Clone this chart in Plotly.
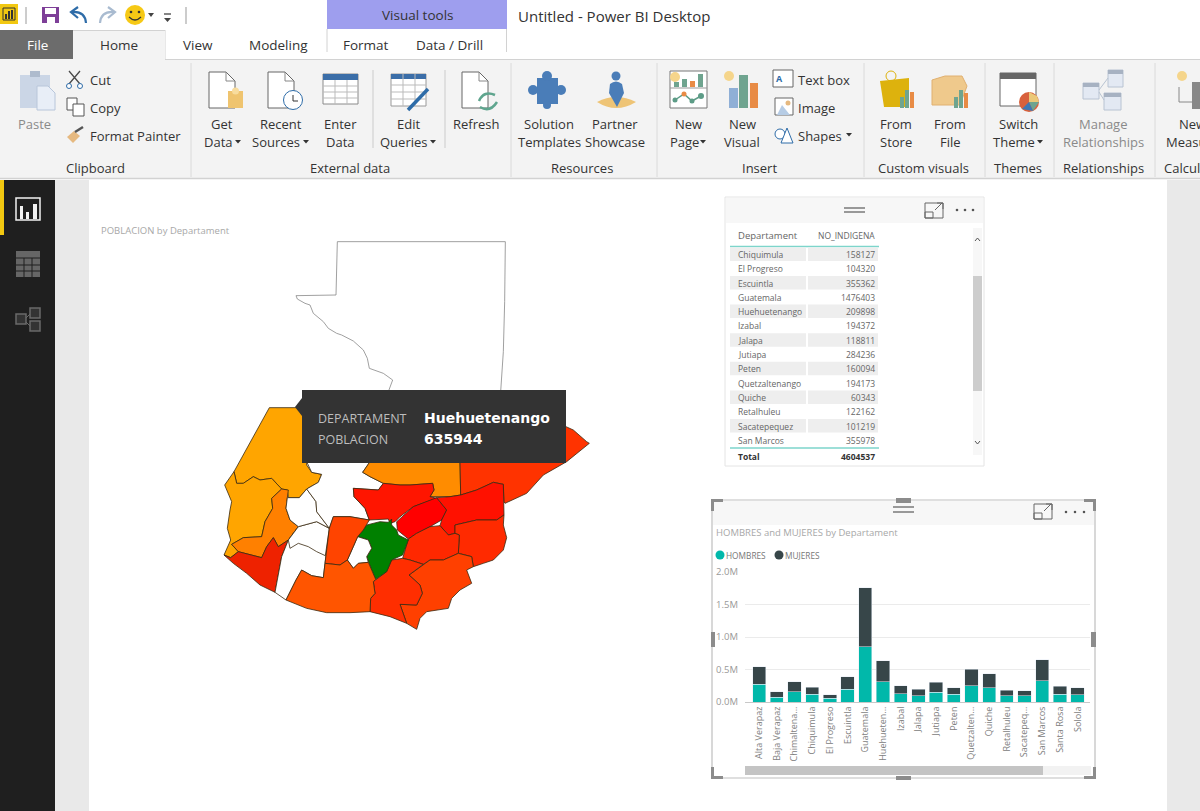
import plotly.graph_objects as go

# --- bar chart data ---
departments = ["Alta Verapaz", "Baja Verapaz", "Chimaltena...", "Chiquimula", "El Progreso", "Escuintla",
               "Guatemala", "Huehueten...", "Izabal", "Jalapa", "Jutiapa", "Peten", "Quetzalten...",
               "Quiche", "Retalhuleu", "Sacatepeq...", "San Marcos", "Santa Rosa", "Solola"]
hombres = [272000, 77000, 154000, 118000, 57000, 195000, 848000, 314000, 129000, 98000,
           149000, 123000, 252000, 216000, 93000, 93000, 324000, 123000, 113000]
mujeres = [273000, 77000, 154000, 108000, 51000, 191000, 910000, 318000, 123000, 97000,
           154000, 98000, 252000, 221000, 87000, 82000, 324000, 119000, 108000]

# --- table data ---
table_names = ["Chiquimula", "El Progreso", "Escuintla", "Guatemala", "Huehuetenango", "Izabal", "Jalapa",
               "Jutiapa", "Peten", "Quetzaltenango", "Quiche", "Retalhuleu", "Sacatepequez", "San Marcos"]
table_values = ["158127", "104320", "355362", "1476403", "209898", "194372", "118811",
                "284236", "160094", "194173", "60343", "122162", "101219", "355978"]

# --- map outlines at 3x: (name, colour, points) ---
map_regions = [
    ("Peten", "#FFFFFF", [(382,20),(886,20),(884,200),(880,350),(872,470),(535,470),(548,435),(520,415),(478,400),(472,370),(460,345),(430,318),(395,300),(380,295),(355,280),(340,260),(310,235),(300,210),(285,205),(262,192),(258,182),(378,180)]),
    ("Huehuetenango", "#FFA500", [(178,518),(290,518),(290,690),(305,712),(335,718),(325,742),(290,762),(268,788),(235,788),(232,765),(215,762),(185,730),(150,735),(130,725),(100,745),(80,745),(72,710)]),
    ("San Marcos", "#FFA500", [(72,710),(80,745),(100,745),(130,725),(150,735),(185,730),(215,762),(185,790),(188,820),(165,860),(155,905),(100,908),(65,928),(85,950),(62,968),(42,960),(62,915),(52,880),(60,825),(65,800),(44,750)]),
    ("Quetzaltenango", "#FF8000", [(215,762),(235,765),(232,788),(228,820),(240,855),(265,875),(235,915),(205,935),(190,908),(170,935),(155,968),(115,958),(85,950),(65,928),(100,908),(155,905),(165,860),(188,820),(185,790)]),
    ("Retalhuleu", "#EE2200", [(42,960),(62,968),(85,950),(155,968),(170,935),(190,908),(205,935),(235,915),(215,965),(195,1072),(150,1050),(110,1015),(70,985)]),
    ("Suchitepequez", "#FFFFFF", [(235,915),(265,875),(320,860),(358,880),(345,985),(340,1028),(305,1022),(275,1005),(258,1035),(228,1095),(195,1072),(215,965)]),
    ("Solola", "#FFFFFF", [(235,915),(265,875),(320,860),(358,880),(346,962),(320,950),(295,935),(265,925),(240,940)]),
    ("Totonicapan", "#FFFFFF", [(232,788),(268,788),(290,762),(318,800),(320,830),(358,880),(320,860),(265,875),(240,855),(228,820)]),
    ("Quiche", "#FFFFFF", [(290,680),(480,680),(458,712),(480,725),(520,745),(505,765),(430,760),(432,785),(465,820),(478,855),(420,845),(370,845),(358,880),(320,830),(318,800),(290,762),(325,742),(335,718),(305,712)]),
    ("Alta Verapaz", "#FF8C00", [(480,680),(458,712),(480,725),(520,745),(570,750),(600,750),(668,745),(672,765),(660,785),(720,785),(752,780),(750,680)]),
    ("Izabal", "#FF3300", [(750,680),(752,780),(800,765),(850,742),(880,748),(882,800),(885,805),(950,775),(1000,720),(1070,680),(1138,625),(1130,620),(1090,585),(1068,575),(1000,575),(750,575)]),
    ("Baja Verapaz", "#FF1500", [(430,760),(505,765),(520,745),(570,750),(600,750),(668,745),(672,765),(660,785),(680,790),(610,815),(570,845),(555,860),(540,865),(535,852),(478,855),(465,820),(432,785)]),
    ("El Progreso", "#FF0000", [(680,788),(710,825),(695,855),(660,875),(620,895),(595,912),(562,885),(560,860),(610,815)]),
    ("Zacapa", "#FF1100", [(680,788),(720,785),(752,780),(800,765),(850,742),(880,748),(882,840),(860,855),(800,855),(735,870),(735,895),(715,900),(690,872),(695,855),(710,825)]),
    ("Chiquimula", "#FF2A00", [(735,870),(800,855),(860,855),(882,840),(880,870),(890,908),(880,945),(850,975),(820,985),(790,995),(785,965),(745,955),(748,900),(735,895)]),
    ("Jalapa", "#FF2800", [(690,872),(715,900),(735,895),(748,900),(745,955),(700,975),(660,975),(640,988),(600,975),(578,970),(595,912),(620,895),(660,875)]),
    ("Jutiapa", "#FF4000", [(745,955),(785,965),(790,995),(770,1005),(785,1045),(750,1065),(725,1090),(715,1120),(650,1130),(630,1150),(620,1183),(590,1165),(570,1108),(620,1110),(637,1075),(630,1050),(597,1020),(640,988),(660,975),(700,975)]),
    ("Santa Rosa", "#FF2E00", [(578,970),(600,975),(640,988),(597,1020),(630,1050),(637,1075),(620,1110),(570,1108),(590,1165),(540,1145),(480,1130),(482,1090),(495,1075),(490,1040),(530,1010),(545,975)]),
    ("Guatemala", "#008000", [(470,870),(510,860),(535,862),(545,852),(545,870),(560,885),(565,900),(595,915),(578,960),(545,975),(530,1010),(497,1033),(485,1005),(470,965),(485,940),(475,915),(443,905),(460,885)]),
    ("Sacatepequez", "#FFFFFF", [(443,905),(475,915),(485,940),(470,965),(475,982),(445,985),(430,1000),(412,975),(430,935)]),
    ("Chimaltenango", "#FF4400", [(370,845),(420,845),(478,855),(470,870),(460,885),(443,905),(430,935),(412,975),(390,990),(345,985),(358,880)]),
    ("Escuintla", "#FF5500", [(258,1035),(275,1005),(305,1022),(340,1028),(345,985),(390,990),(412,975),(430,1000),(445,985),(475,982),(485,1005),(497,1033),(490,1040),(495,1075),(482,1090),(480,1130),(420,1133),(350,1133),(290,1120),(228,1095)]),
]

# --- ribbon text: (x, y, label, colour) ---
DARK = "#333333"
GREY = "#8A8A8A"
ribbon_labels = [
    (34, 124, "Paste", GREY), (222, 124, "Get", DARK), (218, 142, "Data", DARK), (281, 124, "Recent", DARK),
    (276, 142, "Sources", DARK), (340, 124, "Enter", DARK), (340, 142, "Data", DARK), (408, 124, "Edit", DARK),
    (403, 142, "Queries", DARK), (476, 124, "Refresh", DARK), (549, 124, "Solution", DARK),
    (549, 142, "Templates", DARK), (615, 124, "Partner", DARK), (615, 142, "Showcase", DARK), (688, 124, "New", DARK),
    (684, 142, "Page", DARK), (742, 124, "New", DARK), (742, 142, "Visual", DARK), (896, 124, "From", DARK),
    (896, 142, "Store", DARK), (950, 124, "From", DARK), (950, 142, "File", DARK), (1018, 124, "Switch", DARK),
    (1014, 142, "Theme", DARK), (1103, 124, "Manage", GREY), (1103, 142, "Relationships", GREY),
    (1192, 124, "New", DARK), (1192, 142, "Measure", DARK),
    (95, 168, "Clipboard", DARK), (350, 168, "External data", DARK), (582, 168, "Resources", DARK),
    (759, 168, "Insert", DARK), (923, 168, "Custom visuals", DARK), (1018, 168, "Themes", DARK),
    (1103, 168, "Relationships", DARK), (1200, 168, "Calculations", DARK),
]
ribbon_side_labels = [(90, 80, "Cut"), (90, 108, "Copy"), (90, 136, "Format Painter"),
                      (798, 80, "Text box"), (798, 108, "Image"), (798, 136, "Shapes")]
tab_labels = [(119, 45, "Home"), (198, 45, "View"), (278, 45, "Modeling"), (366, 45, "Format"), (449, 45, "Data / Drill")]
dropdown_carets = [(238, 142), (306, 142), (433, 142), (703, 142), (849, 135), (1040, 142)]
group_separators = [191, 511, 657, 864, 985, 1054, 1155]

FONT = "Open Sans"
CLEAR = "rgba(0,0,0,0)"
GREEN = "#6FA48F"
ORANGE = "#E88B45"
BLUE = "#4A7DB8"
SUN = "#F5D58B"
shapes = []
annotations = []


def rect(x0, y0, x1, y1, fill, line=None, layer="below", width=1):
    shapes.append(dict(type="rect", xref="x", yref="y", x0=x0, y0=y0, x1=x1, y1=y1, fillcolor=fill, layer=layer,
                       line=dict(color=line or fill, width=width if line else 0)))


def circle(cx, cy, r, fill, line=None, layer="below"):
    shapes.append(dict(type="circle", xref="x", yref="y", x0=cx - r, y0=cy - r, x1=cx + r, y1=cy + r, fillcolor=fill,
                       layer=layer, line=dict(color=line or fill, width=1 if line else 0)))


def hline(x0, x1, y, color, width=1, layer="below"):
    shapes.append(dict(type="line", xref="x", yref="y", x0=x0, x1=x1, y0=y, y1=y, layer=layer,
                       line=dict(color=color, width=width)))


def vline(x, y0, y1, color, width=1, layer="below"):
    shapes.append(dict(type="line", xref="x", yref="y", x0=x, x1=x, y0=y0, y1=y1, layer=layer,
                       line=dict(color=color, width=width)))


def path(d, fill=CLEAR, line=None, width=1, layer="below"):
    shapes.append(dict(type="path", xref="x", yref="y", path=d, fillcolor=fill, layer=layer,
                       line=dict(color=line or CLEAR, width=width if line else 0)))


def text(x, y, s, size=13, color=DARK, anchor="center", bold=False, family=FONT):
    # annotations carry a little padding on the anchored side
    if anchor == "left":
        x -= 2
    elif anchor == "right":
        x += 2
    annotations.append(dict(x=x, y=y, xref="x", yref="y", text=f"<b>{s}</b>" if bold else s, showarrow=False,
                            xanchor=anchor, yanchor="middle", font=dict(family=family, size=size, color=color)))


def doc_icon(x0, y0, x1, y1):
    path(f"M{x0},{y0} L{x1-9},{y0} L{x1},{y0+9} L{x1},{y1} L{x0},{y1} Z", "#FFFFFF", "#666666")
    path(f"M{x1-9},{y0} L{x1-9},{y0+9} L{x1},{y0+9}", line="#888888")


# --- window background ---
rect(0, 59, 1200, 178, "#F3F3F3")
hline(0, 1200, 178.5, "#D2D2D2", 1.5)
rect(55, 180, 1200, 811, "#E9E9E9")
rect(89, 180, 1167, 811, "#FFFFFF")
rect(0, 180, 55, 811, "#1F1F1F")
rect(0, 180, 4, 235, "#F2C811")

# sidebar icons
rect(16, 198, 40, 220, CLEAR, "#F2F2F2", width=1.5)
for bx, by, bw in [(20, 206, 3), (26, 212, 3), (33, 204, 4)]:
    rect(bx, by, bx + bw, 219, "#F2F2F2")
rect(16, 251, 40, 277, "#666666")
for k in (258, 265, 271):
    hline(16, 40, k, "#1F1F1F")
for k in (24, 32):
    vline(k, 258, 277, "#1F1F1F")
for bx, by, bw in [(16, 314, 10), (30, 308, 10), (30, 321, 10)]:
    rect(bx, by, bx + bw, by + 10, "#333333", "#6A6A6A", width=1.5)
path("M26,318 L30,314 M26,322 L30,326", line="#6A6A6A")

# --- title bar ---
rect(0, 4, 18, 24, "#F2C811")
rect(3, 8, 15, 20, CLEAR, "#333333")
for bx, by in [(5, 14), (8, 11), (11, 10)]:
    rect(bx, by, bx + 2, 19, "#333333")
vline(26, 7, 24, "#9A9A9A")
rect(42, 7, 59, 23, "#7E3F98")
rect(45, 8, 56, 14, "#FFFFFF")
rect(47, 17, 55, 23, "#FFFFFF")
path("M86,23 Q85,11 72,12 M78,7 L71,12 L78,18", line="#2E6CA8", width=2.2)
path("M100,23 Q101,11 114,12 M108,7 L115,12 L108,18", line="#A9BBD0", width=2.2)
circle(135, 15, 10, "#F6C915")
circle(131, 12, 1.3, "#333333")
circle(139, 12, 1.3, "#333333")
path("M129,17 Q135,23 141,17", line="#333333", width=1.2)
path("M148,13 L154,13 L151,17 Z", "#444444")
hline(164, 171, 14, "#444444", 1.3)
path("M164,18 L171,18 L167.5,22 Z", "#444444")
vline(186, 7, 24, "#BBBBBB", 1.5)
rect(327, 0, 507, 29, "#9E9EEE")
text(417, 15, "Visual tools", 13.5)
vline(327, 29, 52, "#D2D2D2")
vline(506.5, 29, 52, "#D2D2D2")
text(518, 16, "Untitled - Power BI Desktop", 15, anchor="left")

# --- tabs ---
hline(165, 1200, 59.5, "#D2D2D2")
rect(0, 30, 73, 59, "#6C6C6C")
hline(73, 165, 30.5, "#D2D2D2")
vline(165, 30, 59, "#D2D2D2")
rect(73, 31, 165, 60, "#F3F3F3")
text(37, 45, "File", 13.5, "#FFFFFF")
for x, y, s in tab_labels:
    text(x, y, s, 13.5)

# --- ribbon ---
for x in group_separators:
    vline(x, 63, 177, "#DADADA")
for x in (373, 445):
    vline(x, 70, 148, "#D8D8D8", 1.5)
for x, y, s, c in ribbon_labels:
    text(x, y, s, 13, c)
for x, y, s in ribbon_side_labels:
    text(x, y, s, 13, anchor="left")
for x, y in dropdown_carets:
    path(f"M{x-3},{y-2} L{x+3},{y-2} L{x},{y+1.5} Z", "#333333")

# clipboard group
rect(20, 75, 50, 108, "#CBD6E6")
rect(30, 71, 40, 77, "#AEBBCD")
path("M37,86 L48,86 L55,93 L55,110 L37,110 Z", "#E8EEF7", "#B8C6DA")
path("M69,71 L80,84 M80,71 L69,84", line="#4A4A4A", width=1.3)
circle(69, 86, 2.5, "#FFFFFF", "#2E6CA8")
circle(80, 86, 2.5, "#FFFFFF", "#2E6CA8")
rect(67, 98, 77, 110, "#FFFFFF", "#555555")
rect(73, 104, 84, 116, "#FFFFFF", "#555555")
path("M67,137 L74,131 L80,136 L73,143 Z", "#E6B980")
path("M75,132 L83,127", line="#555555", width=2.5)

# external data group
doc_icon(209, 72, 235, 108)
rect(228, 91, 243, 108, "#EFC46F")
circle(235.5, 91, 3.5, "#F8DC9D")
doc_icon(268, 72, 294, 108)
circle(293, 100, 9.5, "#FFFFFF", "#2E6CA8")
path("M293,95 L293,101 L298,101", line="#333333")
rect(323, 74, 358, 104, "#FFFFFF", "#8A8A8A")
rect(323, 74, 358, 80, "#3B6EA8")
for k in (86, 92, 98):
    hline(323, 358, k, "#BBBBBB")
for k in (335, 347):
    vline(k, 80, 104, "#BBBBBB")
rect(391, 74, 426, 106, "#FFFFFF", "#9A9A9A")
rect(391, 74, 426, 79, "#3B6EA8")
for k in (85, 92, 99):
    hline(391, 426, k, "#BBBBBB")
for k in (403, 415):
    vline(k, 74, 106, "#BBBBBB")
path("M408,110 L428,89", line="#2E6CA8", width=3.5)
doc_icon(462, 72, 488, 108)
path("M479,101 Q484,90 495,95", line="#5FA58E", width=2.5)
path("M497,102 Q490,113 480,107", line="#5FA58E", width=2.5)

# resources group
rect(537, 78, 558, 104, BLUE)
circle(547, 76, 5, BLUE)
circle(533, 90, 5, BLUE)
circle(547, 105, 4, BLUE)
circle(561, 90, 5, BLUE)
path("M597,102 Q616,92 636,102 Q616,114 597,102 Z", "#EEC476")
circle(616, 76, 4.5, BLUE)
path("M610,84 Q616,79 622,84 L624,93 L617,107 L609,93 Z", BLUE)

# insert group
rect(670, 71, 707, 108, "#FFFFFF", "#777777")
for bx, by, col in [(674, 82, GREEN), (682, 79, GREEN), (690, 81, ORANGE), (698, 74, GREEN)]:
    rect(bx, by, bx + 5, 87, col)
hline(670, 707, 88, "#999999")
path("M675,100 L684,94 L692,101 L701,96", line="#5D9C87", width=1.5)
circle(675, 100, 2.5, "#5D9C87")
circle(684, 94, 2.5, ORANGE)
circle(692, 101, 2.5, "#5D9C87")
circle(701, 96, 3, "#5D9C87")
circle(675, 77, 5, SUN)
circle(729, 76, 5, SUN)
rect(729, 88, 738, 108, "#8FAFD6")
rect(739, 75, 748, 108, GREEN)
rect(750, 83, 758, 108, ORANGE)
rect(773, 70, 793, 87, "#FFFFFF", "#666666")
text(779, 78, "A", 9, "#2E6CA8", bold=True)
rect(775, 98, 793, 115, "#FFFFFF", "#666666")
circle(788, 103, 2.5, "#E6B980")
path("M777,115 L782,105 L790,115 Z", "#B6CCE5")
circle(780, 134, 5, "#FFFFFF", "#2E6CA8")
path("M781,143 L787,128 L793,143 Z", "#FFFFFF", "#2E6CA8")

# custom visuals group
path("M880,81 L909,78 L909,107 L884,107 Z", "#DDB20D")
circle(891, 76, 5, CLEAR, "#DDB20D")
for bx, by, col in [(900, 97, GREEN), (905, 90, GREEN), (910, 92, ORANGE)]:
    rect(bx, by, bx + 4, 108, col)
path("M932,80 L945,76 L962,76 L967,86 L960,105 L932,105 Z", "#EFC98C", "#E0B070")
for bx, by, col in [(954, 97, GREEN), (959, 90, GREEN), (964, 93, ORANGE)]:
    rect(bx, by, bx + 4, 108, col)

# themes group
rect(1000, 73, 1036, 106, "#FFFFFF", "#666666")
rect(1000, 73, 1036, 79, "#666666")
circle(1029, 102, 10, "#D8613C")
path("M1029,102 L1029,92 L1037,96 L1039,102 Z", "#EBC878")
path("M1029,102 L1039,102 L1033,111 Z", GREEN)
path("M1029,102 L1033,111 L1022,109 Z", "#3E78B5")

# relationships / calculations groups
for bx, by, bw, bh in [(1083, 83, 16, 16), (1108, 70, 15, 17), (1104, 93, 17, 17)]:
    rect(bx, by, bx + bw, by + bh, "#E3E9F3", "#B8C3D2")
    rect(bx, by, bx + bw, by + 4, "#A7B2C2")
path("M1099,90 L1108,78 M1099,92 L1104,100", line="#B8C3D2")
circle(1182, 76, 5, SUN)
rect(1192, 82, 1201, 109, "#888888")
path("M1179,87 L1179,102 L1192,102", line="#888888")

# --- map visual ---
text(101, 230, "POBLACION by Departament", 9.5, "#A8A8A8", anchor="left")

# --- table visual ---
rect(725, 197, 984, 466, "#FFFFFF", "#E4E4E4")
rect(726, 198, 983, 223, "#F7F7F7")
hline(844, 865, 208, "#666666", 1.3)
hline(844, 865, 212, "#666666", 1.3)
rect(925, 203, 943, 218, CLEAR, "#666666")
rect(925, 212, 933, 218, CLEAR, "#666666")
path("M935,210 L942,203 M937,203 L943,203 L943,209", line="#666666")
for k in (957, 965, 973):
    circle(k, 210, 1.3, "#555555")
text(738, 235, "Departament", 9.5, "#666666", anchor="left")
text(875, 235, "NO_INDIGENA", 8.5, "#666666", anchor="right")
hline(730, 879, 246.5, "#7DD5CB", 1.5)
for i, (name, val) in enumerate(zip(table_names, table_values)):
    ry = 254.4 + i * 14.3
    if i % 2 == 0:
        rect(730, ry - 7, 806, ry + 6.5, "#EEEEEE")
        rect(808, ry - 7, 878, ry + 6.5, "#EEEEEE")
    text(738, ry, name, 8.5, "#666666", anchor="left")
    text(875, ry, val, 8.5, "#666666", anchor="right")
hline(730, 879, 448, "#7DD5CB", 1.5)
text(738, 456, "Total", 8.5, "#333333", anchor="left", bold=True)
text(875, 456, "4604537", 8.5, "#333333", anchor="right", bold=True)
rect(973, 228, 982, 455, "#F7F7F7")
rect(973, 276, 982, 391, "#CDCDCD")
path("M975,241 L977.5,238 L980,241", line="#555555")
path("M975,441 L977.5,444 L980,441", line="#555555")

# --- bar visual frame ---
rect(712, 500, 1095, 778, "#FFFFFF", "#BFBFBF", width=1.2)
rect(713, 501, 1094, 525, "#F7F7F7")
hline(893, 914, 507, "#666666", 1.3)
hline(893, 914, 512, "#666666", 1.3)
rect(1034, 504, 1052, 519, CLEAR, "#666666")
rect(1034, 513, 1042, 519, CLEAR, "#666666")
path("M1044,511 L1051,504 M1046,504 L1052,504 L1052,510", line="#666666")
for k in (1066, 1075, 1084):
    circle(k, 512, 1.3, "#555555")
text(716, 532, "HOMBRES and MUJERES by Departament", 9.5, "#A8A8A8", anchor="left")
circle(720, 555, 4.5, "#01B8AA")
text(726, 555, "HOMBRES", 8.3, "#777777", anchor="left")
circle(779, 555, 4.5, "#374649")
text(785, 555, "MUJERES", 8.3, "#777777", anchor="left")
rect(745, 766, 1043, 775, "#C4C4C4")
rect(1043, 766, 1091, 775, "#F2F2F2")
HANDLE = "#8C8C8C"
for hx0, hy0, hx1, hy1 in [(896, 498, 911, 503), (896, 776, 911, 780), (711, 632, 715, 647), (1091, 632, 1096, 647)]:
    rect(hx0, hy0, hx1, hy1, HANDLE)
for cx, cy, sx, sy in [(711, 499, 1, 1), (1096, 499, -1, 1), (711, 779, 1, -1), (1096, 779, -1, -1)]:
    path(f"M{cx},{cy} L{cx+12*sx},{cy} L{cx+12*sx},{cy+3*sy} L{cx+3*sx},{cy+3*sy} L{cx+3*sx},{cy+12*sy} L{cx},{cy+12*sy} Z", HANDLE)

# --- tooltip, above the map ---
rect(302, 390, 566, 463, "#333333", layer="above")
path("M302,398 L295,407 L302,416 Z", "#333333", layer="above")
text(318, 418, "DEPARTAMENT", 12.5, "#BDBDBD", anchor="left")
text(318, 439, "POBLACION", 12.5, "#BDBDBD", anchor="left")
text(424, 418, "Huehuetenango", 14, "#FFFFFF", anchor="left", bold=True, family="DejaVu Sans")
text(424, 439, "635944", 14, "#FFFFFF", anchor="left", bold=True, family="DejaVu Sans")

fig = go.Figure()

# --- map regions, one filled trace each ---
for name, colour, points in map_regions:
    fig.add_trace(go.Scatter(
        x=[p[0] / 3 + 210 for p in points] + [points[0][0] / 3 + 210],
        y=[p[1] / 3 + 235 for p in points] + [points[0][1] / 3 + 235],
        mode="lines", fill="toself", fillcolor=colour, name=name, hoverinfo="name", showlegend=False,
        line=dict(color="#888888" if name == "Peten" else "#3A2A10", width=0.8),
        xaxis="x", yaxis="y",
    ))

# --- stacked bars ---
fig.add_trace(go.Bar(x=departments, y=hombres, name="HOMBRES", marker_color="#01B8AA", width=0.75,
                     xaxis="x2", yaxis="y2", showlegend=False))
fig.add_trace(go.Bar(x=departments, y=mujeres, name="MUJERES", marker_color="#374649", width=0.75,
                     xaxis="x2", yaxis="y2", showlegend=False))

W, H = 1200, 811
fig.update_layout(
    width=W, height=H, margin=dict(l=0, r=0, t=0, b=0, pad=0, autoexpand=False),
    paper_bgcolor="#FFFFFF", plot_bgcolor=CLEAR,
    barmode="stack", shapes=shapes, annotations=annotations,
    xaxis=dict(range=[0, W], domain=[0, 1], visible=False, fixedrange=True),
    yaxis=dict(range=[H, 0], domain=[0, 1], visible=False, fixedrange=True),
    xaxis2=dict(domain=[745 / W, 1090 / W], anchor="y2", range=[-0.8, 18.7], tickangle=-90, showgrid=False,
                tickfont=dict(family=FONT, size=9, color="#808080"), linecolor="#C8C8C8", showline=True,
                ticks="", categoryorder="array", categoryarray=departments),
    yaxis2=dict(domain=[1 - 702 / H, 1 - 572 / H], anchor="x2", range=[0, 2000000], tickvals=[0, 500000, 1000000, 1500000, 2000000],
                ticktext=["0.0M", "0.5M", "1.0M", "1.5M", "2.0M"], gridcolor="#EBEBEB", zeroline=False,
                tickfont=dict(family=FONT, size=9.5, color="#999999"), ticks="", ticklabelstandoff=6),
    showlegend=False,
)

# the page's default body margin would push the figure off the window
fig.write_html("out.html", config={"displayModeBar": False},
               post_script="document.body.style.margin='0';document.body.style.overflow='hidden';")
